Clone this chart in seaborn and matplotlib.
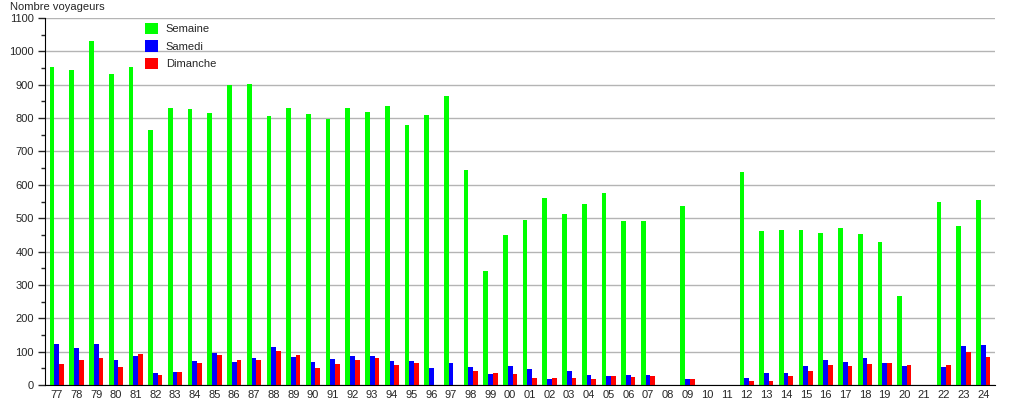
import numpy as np
import pandas as pd
import seaborn as sns
import matplotlib.pyplot as plt
from matplotlib.ticker import MultipleLocator

sns.set_style('white')
plt.rcParams['font.family'] = ['Liberation Sans', 'DejaVu Sans']

nan = np.nan
annees = ['77', '78', '79', '80', '81', '82', '83', '84', '85', '86', '87', '88',
          '89', '90', '91', '92', '93', '94', '95', '96', '97', '98', '99', '00',
          '01', '02', '03', '04', '05', '06', '07', '08', '09', '10', '11', '12',
          '13', '14', '15', '16', '17', '18', '19', '20', '21', '22', '23', '24']
semaine = [953, 945, 1031, 933, 953, 764, 829, 826, 814, 900, 903, 805,
           829, 811, 796, 829, 817, 837, 778, 808, 865, 645, 343, 450,
           495, 561, 513, 543, 576, 492, 492, nan, 536, nan, nan, 638,
           462, 465, 465, 456, 471, 453, 429, 268, nan, 549, 477, 554]
samedi = [124, 112, 124, 76, 88, 36, 39, 73, 97, 70, 82, 115,
          85, 70, 79, 88, 88, 73, 73, 52, 67, 55, 33, 58,
          48, 18, 42, 30, 27, 30, 30, nan, 18, nan, nan, 21,
          36, 36, 58, 76, 70, 82, 67, 58, nan, 55, 118, 121]
dimanche = [64, 76, 82, 55, 94, 30, 39, 67, 91, 76, 76, 103,
            91, 52, 64, 76, 82, 61, 67, nan, nan, 42, 36, 33,
            21, 21, 21, 18, 27, 24, 27, nan, 18, nan, nan, 12,
            12, 27, 42, 61, 58, 64, 67, 61, nan, 61, 100, 85]
series = ['Semaine', 'Samedi', 'Dimanche']
couleurs = ['#00ff00', '#0000ff', '#ff0000']

df = pd.DataFrame({'annee': annees, 'Semaine': semaine,
                   'Samedi': samedi, 'Dimanche': dimanche})
long = df.melt(id_vars='annee', var_name='jour', value_name='voyageurs')

fig = plt.figure(figsize=(10.15, 4.0), dpi=100)
ax = fig.add_axes([45 / 1015, 15 / 400, 950 / 1015, 367 / 400])

sns.barplot(data=long, x='annee', y='voyageurs', hue='jour', order=annees,
            hue_order=series, palette=couleurs, width=0.72, errorbar=None,
            saturation=1, linewidth=0, ax=ax)

ax.set_ylim(0, 1100)
ax.set_xlim(-0.6, len(annees) - 0.4)
ax.yaxis.set_major_locator(MultipleLocator(100))
ax.yaxis.set_minor_locator(MultipleLocator(50))
ax.grid(axis='y', color='#b4b4b4', linewidth=1)
ax.set_axisbelow(True)
ax.tick_params(axis='y', which='major', left=True, length=5, width=1,
               labelsize=8, pad=3)
ax.tick_params(axis='y', which='minor', left=True, length=3, width=1)
ax.tick_params(axis='x', bottom=False, labelsize=8, pad=0)
ax.set_xlabel('')
ax.set_ylabel('')
sns.despine(ax=ax, top=True, right=True)
ax.spines['left'].set_color('black')
ax.spines['bottom'].set_color('black')

ax.legend(loc='upper left', bbox_to_anchor=(0.098, 1.005), frameon=False,
          fontsize=8, handlelength=1.15, handleheight=1.2, handletextpad=0.75,
          labelspacing=0.55, borderaxespad=0.2)

fig.text(10 / 1015, 1 - 7 / 400, 'Nombre voyageurs', fontsize=8,
         ha='left', va='center')

fig.savefig('out.png', dpi=100)
